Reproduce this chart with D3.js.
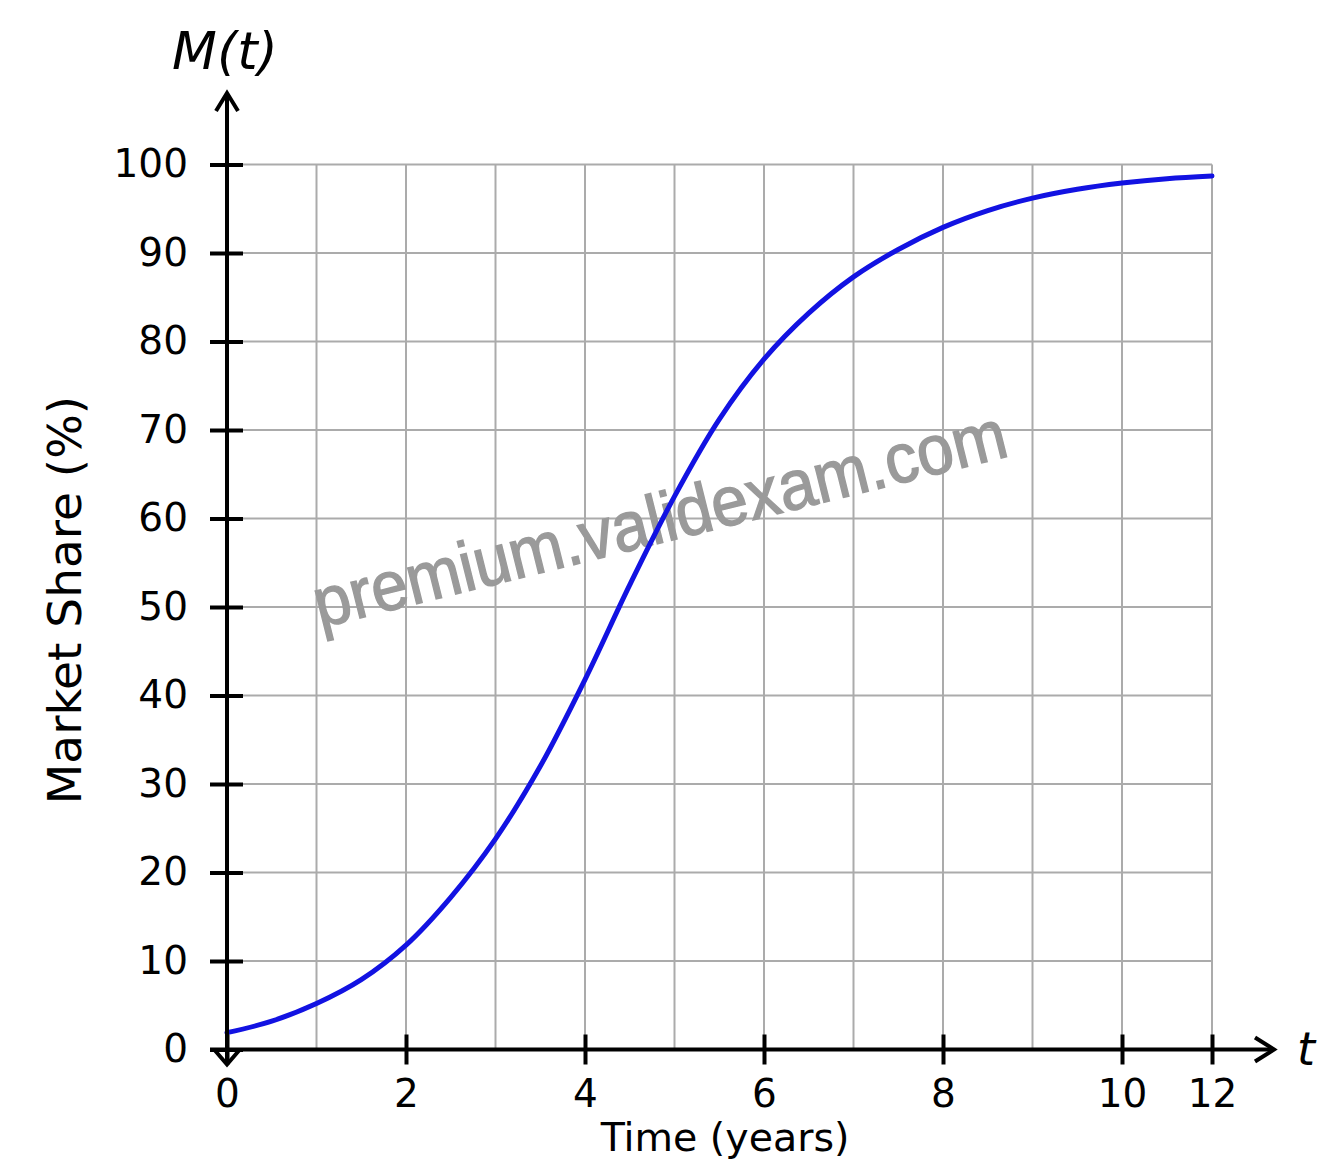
<!DOCTYPE html>
<html>
<head>
<meta charset="utf-8">
<script src="https://cdn.jsdelivr.net/npm/d3@7"></script>
<style>
  body { margin: 0; background: #fff; }
  svg { display: block; }
</style>
</head>
<body>
<div id="chart"></div>
<script>
// values
const timeYears = [0, 0.5, 1, 1.5, 2, 2.5, 3, 3.5, 4, 4.5, 5, 5.5, 6, 6.5, 7, 7.5, 8, 8.5, 9, 9.5, 10, 11, 12];
const marketShare = [1.9, 3.2, 5.2, 7.9, 11.8, 17.2, 23.8, 32.0, 41.8, 52.5, 62.5, 71.2, 78.0, 83.2, 87.3, 90.4, 92.9, 94.8, 96.2, 97.2, 97.9, 98.4, 98.7];
const xTicks = [0, 2, 4, 6, 8, 10, 12];
const yTicks = [0, 10, 20, 30, 40, 50, 60, 70, 80, 90, 100];
const xGrid = [0, 1, 2, 3, 4, 5, 6, 7, 8, 9, 10, 12];

const width = 1341;
const height = 1173;
const font = "'DejaVu Sans', Verdana, sans-serif";

const svg = d3.select("#chart")
    .append("svg")
    .attr("width", width)
    .attr("height", height);

svg.append("rect")
    .attr("width", width)
    .attr("height", height)
    .attr("fill", "#fff");

// the last interval on the picture is squeezed: 10 -> 12 takes one grid cell
const x = d3.scaleLinear()
    .domain([0, 10, 12])
    .range([227, 1122, 1212]);

const y = d3.scaleLinear()
    .domain([0, 100])
    .range([1049.5, 164.5]);

// grid
const grid = svg.append("g")
    .attr("stroke", "#ababab")
    .attr("stroke-width", 2);

grid.selectAll(".vgrid")
    .data(xGrid)
    .join("line")
    .attr("class", "vgrid")
    .attr("x1", d => x(d))
    .attr("x2", d => x(d))
    .attr("y1", y(0))
    .attr("y2", y(100));

grid.selectAll(".hgrid")
    .data(yTicks.filter(d => d > 0))
    .join("line")
    .attr("class", "hgrid")
    .attr("x1", x(0))
    .attr("x2", x(12))
    .attr("y1", d => y(d))
    .attr("y2", d => y(d));

// watermark
svg.append("text")
    .text("premium.validexam.com")
    .attr("transform", "translate(320,628) rotate(-14)")
    .attr("font-family", "'Liberation Sans', Arial, sans-serif")
    .attr("font-size", 70)
    .attr("textLength", 712)
    .attr("lengthAdjust", "spacingAndGlyphs")
    .attr("fill", "#9a9a9a")
    .attr("stroke", "#9a9a9a")
    .attr("stroke-width", 1.4);

// curve
const line = d3.line()
    .x(d => x(d[0]))
    .y(d => y(d[1]))
    .curve(d3.curveCatmullRom.alpha(0.5));

svg.append("path")
    .datum(d3.zip(timeYears, marketShare))
    .attr("d", line)
    .attr("fill", "none")
    .attr("stroke", "#1212e2")
    .attr("stroke-width", 5)
    .attr("stroke-linecap", "round");

// y axis ticks and labels
svg.append("g")
    .attr("transform", `translate(${x(0)},0)`)
    .call(d3.axisLeft(y).tickValues(yTicks).tickSize(17).tickPadding(22))
    .call(g => g.select(".domain").remove())
    .call(g => g.selectAll(".tick line")
        .attr("x1", 16)
        .attr("stroke", "#000")
        .attr("stroke-width", 4))
    .call(g => g.selectAll(".tick text")
        .attr("font-family", font)
        .attr("font-size", 39)
        .attr("fill", "#000"));

// x axis ticks and labels
svg.append("g")
    .attr("transform", `translate(0,${y(0)})`)
    .call(d3.axisBottom(x).tickValues(xTicks).tickSize(15).tickPadding(15))
    .call(g => g.select(".domain").remove())
    .call(g => g.selectAll(".tick line")
        .attr("y1", -15)
        .attr("stroke", "#000")
        .attr("stroke-width", 4))
    .call(g => g.selectAll(".tick text")
        .attr("font-family", font)
        .attr("font-size", 39)
        .attr("fill", "#000"));

// axis lines with arrow heads
const axes = svg.append("g")
    .attr("stroke", "#000")
    .attr("stroke-width", 4)
    .attr("fill", "none")
    .attr("stroke-linecap", "butt");

axes.append("line")
    .attr("x1", x(0)).attr("x2", x(0))
    .attr("y1", y(0) + 14).attr("y2", 93);
axes.append("path")
    .attr("d", `M${x(0) - 11},111 L${x(0)},93 L${x(0) + 11},111`);
axes.append("path")
    .attr("d", `M${x(0) - 12},${y(0) + 1} L${x(0)},${y(0) + 15} L${x(0) + 12},${y(0) + 1}`);

axes.append("line")
    .attr("x1", 210).attr("x2", 1274)
    .attr("y1", y(0)).attr("y2", y(0));
axes.append("path")
    .attr("d", `M1255,${y(0) - 12} L1274,${y(0)} L1255,${y(0) + 12}`);

// axis titles
svg.append("text")
    .text("M(t)")
    .attr("x", 225)
    .attr("y", 69)
    .attr("text-anchor", "middle")
    .attr("font-family", font)
    .attr("font-style", "italic")
    .attr("font-size", 52);

svg.append("text")
    .text("t")
    .attr("x", 1297)
    .attr("y", 1065)
    .attr("font-family", font)
    .attr("font-style", "italic")
    .attr("font-size", 46);

svg.append("text")
    .text("Time (years)")
    .attr("x", 725)
    .attr("y", 1151)
    .attr("text-anchor", "middle")
    .attr("font-family", font)
    .attr("font-size", 39.5);

svg.append("text")
    .text("Market Share (%)")
    .attr("transform", "translate(81,600) rotate(-90)")
    .attr("text-anchor", "middle")
    .attr("font-family", font)
    .attr("font-size", 47);
</script>
</body>
</html>
